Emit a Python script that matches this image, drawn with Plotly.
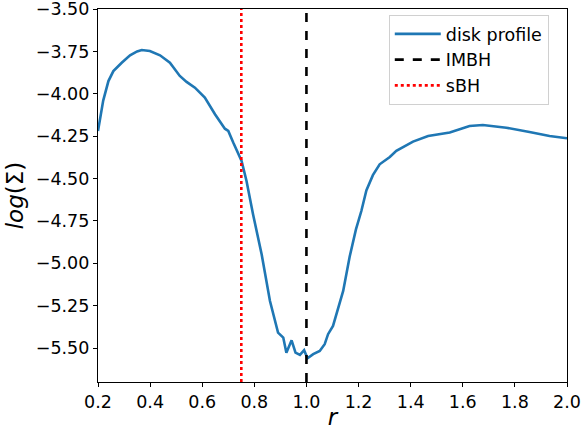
import plotly.graph_objects as go

# Radial surface-density profile of the disk
r = [0.200, 0.220, 0.240, 0.259, 0.291, 0.323, 0.350, 0.368, 0.399, 0.438, 0.476,
     0.514, 0.540, 0.572, 0.610, 0.649, 0.687, 0.700, 0.719, 0.751, 0.770, 0.783,
     0.795, 0.828, 0.860, 0.891, 0.911, 0.923, 0.943, 0.958, 0.975, 0.991, 1.004,
     1.026, 1.051, 1.070, 1.083, 1.102, 1.121, 1.141, 1.166, 1.190, 1.211, 1.230,
     1.255, 1.281, 1.320, 1.345, 1.409, 1.467, 1.550, 1.626, 1.677, 1.767, 1.856,
     1.933, 2.000]
log_sigma = [-4.22, -4.04, -3.925, -3.866, -3.817, -3.773, -3.750, -3.742, -3.748,
             -3.773, -3.817, -3.895, -3.930, -3.964, -4.023, -4.121, -4.206, -4.219,
             -4.288, -4.396, -4.514, -4.622, -4.711, -4.946, -5.222, -5.409, -5.438,
             -5.527, -5.454, -5.527, -5.540, -5.512, -5.560, -5.536, -5.517, -5.477,
             -5.418, -5.369, -5.270, -5.163, -4.960, -4.800, -4.690, -4.570, -4.480,
             -4.416, -4.373, -4.337, -4.282, -4.249, -4.229, -4.190, -4.184, -4.200,
             -4.225, -4.249, -4.262]

r_imbh = 1.0
r_sbh = 0.75

x_ticks = [0.2, 0.4, 0.6, 0.8, 1.0, 1.2, 1.4, 1.6, 1.8, 2.0]
y_ticks = [-3.50, -3.75, -4.00, -4.25, -4.50, -4.75, -5.00, -5.25, -5.50]

x_range = [0.2, 2.0]
y_range = [-5.70, -3.50]

fig = go.Figure()

fig.add_trace(go.Scatter(
    x=r, y=log_sigma, mode="lines", name="disk profile",
    line=dict(color="#1f77b4", width=2.6),
))
fig.add_trace(go.Scatter(
    x=[r_imbh, r_imbh], y=y_range, mode="lines", name="IMBH",
    line=dict(color="black", width=2.6, dash="dash"),
))
fig.add_trace(go.Scatter(
    x=[r_sbh, r_sbh], y=y_range, mode="lines", name="sBH",
    line=dict(color="red", width=2.6, dash="dot"),
))

axis_common = dict(
    showgrid=False, zeroline=False, showline=True, linecolor="black", linewidth=1.2,
    mirror=True, ticks="outside", ticklen=4, tickwidth=1.2, tickcolor="black",
    tickfont=dict(family="DejaVu Sans", size=17.5, color="black"),
    automargin=False, ticklabeloverflow="allow",
)

fig.update_layout(
    width=582, height=430,
    margin=dict(l=98, r=15, t=9, b=48),
    paper_bgcolor="white", plot_bgcolor="white",
    font=dict(family="DejaVu Sans", color="black"),
    xaxis=dict(
        range=x_range, tickvals=x_ticks,
        ticktext=[f"{v:.1f}" for v in x_ticks],
        title=dict(text="<i>r</i>", font=dict(size=23), standoff=2),
        **axis_common,
    ),
    yaxis=dict(
        range=y_range, tickvals=y_ticks,
        ticktext=[f"\u2212{abs(v):.2f}" for v in y_ticks],
        title=dict(text="<i>log</i>(\u03a3)", font=dict(size=23), standoff=5),
        **axis_common,
    ),
    legend=dict(
        x=0.620, y=0.984, xanchor="left", yanchor="top",
        bgcolor="rgba(255,255,255,0.85)", bordercolor="#d0d0d0", borderwidth=1,
        font=dict(family="DejaVu Sans", size=17.5, color="black"),
        tracegroupgap=0, itemwidth=46,
    ),
    showlegend=True,
)

fig.write_html("out.html")
